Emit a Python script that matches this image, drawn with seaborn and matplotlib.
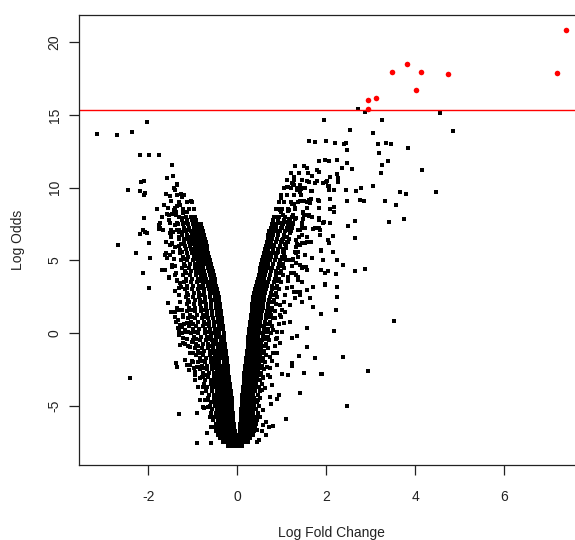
import matplotlib
matplotlib.use("Agg")
import matplotlib.pyplot as plt
import seaborn as sns
import pandas as pd

# ---------------- data ----------------
# dense core of the volcano: one row per log-odds level, x values of left / right arm
core_y = [-7.75, -7.5, -7.25, -7.0, -6.75, -6.5, -6.25, -6.0, -5.75, -5.5, -5.25, -5.0,
          -4.75, -4.5, -4.25, -4.0, -3.75, -3.5, -3.25, -3.0, -2.75, -2.5, -2.25, -2.0,
          -1.75, -1.5, -1.25, -1.0, -0.75, -0.5, -0.25, 0.0, 0.25, 0.5, 0.75, 1.0, 1.25,
          1.5, 1.75, 2.0, 2.25, 2.5, 2.75, 3.0, 3.25, 3.5, 3.75, 4.0, 4.25, 4.5, 4.75,
          5.0, 5.25, 5.5, 5.75, 6.0, 6.25, 6.5, 6.75, 7.0, 7.25, 7.5, 7.75, 8.0, 8.5,
          9.0, 9.5, 10.0, 10.5, 11.0, 11.5]
core_left_x = [
    [-0.2, -0.14, -0.08, -0.02],
    [-0.32, -0.25, -0.19, -0.13, -0.07, -0.01],
    [-0.38, -0.3, -0.24, -0.18, -0.12, -0.06],
    [-0.44, -0.35, -0.28, -0.22, -0.16, -0.1, -0.04],
    [-0.47, -0.38, -0.3, -0.24, -0.18, -0.12, -0.06],
    [-0.5, -0.4, -0.32, -0.26, -0.2, -0.14, -0.07],
    [-0.48, -0.39, -0.33, -0.27, -0.21, -0.15, -0.08],
    [-0.55, -0.44, -0.36, -0.29, -0.22, -0.16, -0.09],
    [-0.52, -0.43, -0.35, -0.29, -0.23, -0.17, -0.1],
    [-0.6, -0.48, -0.38, -0.31, -0.24, -0.17, -0.1],
    [-0.57, -0.46, -0.38, -0.31, -0.25, -0.18, -0.11],
    [-0.62, -0.5, -0.4, -0.33, -0.26, -0.19, -0.12],
    [-0.6, -0.49, -0.41, -0.34, -0.27, -0.2, -0.13],
    [-0.66, -0.53, -0.43, -0.35, -0.28, -0.2, -0.13],
    [-0.64, -0.52, -0.44, -0.36, -0.29, -0.21, -0.14],
    [-0.7, -0.56, -0.46, -0.38, -0.3, -0.22, -0.15],
    [-0.68, -0.56, -0.47, -0.39, -0.31, -0.23, -0.16],
    [-0.74, -0.6, -0.49, -0.4, -0.32, -0.24, -0.17],
    [-0.72, -0.6, -0.5, -0.42, -0.34, -0.26, -0.18],
    [-0.8, -0.65, -0.53, -0.43, -0.35, -0.27, -0.19],
    [-0.76, -0.63, -0.53, -0.44, -0.36, -0.28, -0.2],
    [-0.84, -0.68, -0.56, -0.46, -0.37, -0.29, -0.21],
    [-0.8, -0.67, -0.56, -0.47, -0.38, -0.3, -0.22],
    [-0.88, -0.72, -0.59, -0.49, -0.4, -0.31, -0.23],
    [-0.84, -0.7, -0.59, -0.5, -0.41, -0.32, -0.24],
    [-0.92, -0.76, -0.62, -0.51, -0.42, -0.33, -0.25],
    [-0.88, -0.74, -0.62, -0.52, -0.43, -0.34, -0.26],
    [-0.96, -0.8, -0.66, -0.54, -0.44, -0.35, -0.27],
    [-0.92, -0.78, -0.66, -0.55, -0.45, -0.36, -0.28],
    [-1.0, -0.84, -0.7, -0.57, -0.47, -0.37, -0.29],
    [-0.97, -0.82, -0.69, -0.58, -0.48, -0.38, -0.3],
    [-1.04, -0.88, -0.73, -0.6, -0.5, -0.4, -0.31],
    [-1.0, -0.86, -0.72, -0.61, -0.51, -0.41, -0.32],
    [-1.08, -0.92, -0.76, -0.63, -0.52, -0.42, -0.33],
    [-1.03, -0.89, -0.75, -0.64, -0.53, -0.43, -0.34],
    [-1.1, -0.94, -0.79, -0.66, -0.55, -0.44, -0.35],
    [-1.06, -0.91, -0.78, -0.67, -0.56, -0.45, -0.36],
    [-1.12, -0.96, -0.82, -0.69, -0.57, -0.46, -0.37],
    [-1.08, -0.94, -0.81, -0.7, -0.58, -0.47, -0.38],
    [-1.14, -0.98, -0.84, -0.71, -0.59, -0.48, -0.39],
    [-1.1, -0.96, -0.83, -0.72, -0.6, -0.49, -0.4],
    [-1.16, -1.0, -0.86, -0.73, -0.61, -0.5, -0.41],
    [-1.12, -0.98, -0.85, -0.74, -0.62, -0.52, -0.43],
    [-1.18, -1.02, -0.88, -0.75, -0.64, -0.54, -0.45],
    [-1.14, -1.0, -0.87, -0.76, -0.66, -0.56, -0.47],
    [-1.2, -1.04, -0.9, -0.78, -0.68, -0.58, -0.49],
    [-1.16, -1.02, -0.89, -0.8, -0.7, -0.6, -0.51],
    [-1.22, -1.06, -0.93, -0.82, -0.72, -0.62, -0.53],
    [-1.18, -1.04, -0.92, -0.83, -0.74, -0.64, -0.55],
    [-1.24, -1.08, -0.96, -0.86, -0.76, -0.66, -0.57],
    [-1.2, -1.06, -0.95, -0.87, -0.78, -0.68, -0.59],
    [-1.26, -1.12, -0.99, -0.89, -0.8, -0.7, -0.61],
    [-1.22, -1.1, -0.98, -0.9, -0.82, -0.72, -0.63],
    [-1.28, -1.14, -1.02, -0.92, -0.83, -0.74, -0.65],
    [-1.16, -1.04, -0.94, -0.85, -0.76, -0.67],
    [-1.3, -1.18, -1.06, -0.96, -0.87, -0.78, -0.69],
    [-1.2, -1.08, -0.98, -0.89, -0.8, -0.71],
    [-1.32, -1.2, -1.1, -1.0, -0.91, -0.82, -0.73],
    [-1.24, -1.12, -1.02, -0.93, -0.84, -0.75],
    [-1.3, -1.16, -1.04, -0.95, -0.86, -0.77],
    [-1.2, -1.08, -0.98, -0.88, -0.79],
    [-1.34, -1.22, -1.1, -1.0, -0.9, -0.81],
    [-1.25, -1.13, -1.02, -0.92],
    [-1.3, -1.16, -1.04, -0.94],
    [-1.4, -1.22, -1.08, -0.98],
    [-1.3, -1.14, -1.02],
    [-1.36, -1.2],
    [-1.42],
    [],
    [],
    [],
]
core_right_x = [
    [0.04, 0.1],
    [0.05, 0.11, 0.17, 0.24],
    [0.03, 0.09, 0.15, 0.21, 0.28],
    [0.04, 0.1, 0.16, 0.22, 0.29, 0.36],
    [0.05, 0.11, 0.17, 0.23, 0.3, 0.38],
    [0.06, 0.12, 0.18, 0.24, 0.31, 0.4],
    [0.07, 0.13, 0.19, 0.25, 0.32, 0.41],
    [0.08, 0.14, 0.2, 0.27, 0.35, 0.45],
    [0.08, 0.14, 0.2, 0.26, 0.33, 0.42],
    [0.09, 0.15, 0.21, 0.28, 0.36, 0.46],
    [0.09, 0.15, 0.21, 0.27, 0.34, 0.43],
    [0.1, 0.16, 0.22, 0.29, 0.37, 0.48],
    [0.1, 0.16, 0.22, 0.28, 0.35, 0.44],
    [0.11, 0.17, 0.23, 0.3, 0.38, 0.5],
    [0.11, 0.17, 0.23, 0.29, 0.36, 0.46],
    [0.12, 0.18, 0.24, 0.31, 0.4, 0.52],
    [0.13, 0.19, 0.25, 0.32, 0.39, 0.48],
    [0.14, 0.2, 0.26, 0.33, 0.42, 0.55],
    [0.14, 0.2, 0.27, 0.34, 0.41, 0.5],
    [0.15, 0.21, 0.28, 0.35, 0.44, 0.58],
    [0.16, 0.22, 0.29, 0.36, 0.44, 0.54],
    [0.17, 0.23, 0.3, 0.37, 0.46, 0.6],
    [0.18, 0.24, 0.31, 0.38, 0.46, 0.56],
    [0.19, 0.25, 0.32, 0.39, 0.48, 0.62],
    [0.2, 0.26, 0.33, 0.4, 0.48, 0.58],
    [0.21, 0.27, 0.34, 0.42, 0.5, 0.65],
    [0.22, 0.28, 0.35, 0.43, 0.51, 0.61],
    [0.23, 0.29, 0.36, 0.44, 0.53, 0.68],
    [0.23, 0.3, 0.37, 0.45, 0.54, 0.64],
    [0.24, 0.31, 0.38, 0.46, 0.56, 0.72],
    [0.25, 0.32, 0.39, 0.47, 0.57, 0.67],
    [0.26, 0.33, 0.4, 0.48, 0.58, 0.75],
    [0.27, 0.34, 0.41, 0.49, 0.59, 0.7],
    [0.28, 0.35, 0.42, 0.5, 0.61, 0.78],
    [0.29, 0.36, 0.43, 0.51, 0.62, 0.73],
    [0.3, 0.37, 0.44, 0.53, 0.64, 0.8],
    [0.31, 0.38, 0.45, 0.54, 0.65, 0.76],
    [0.32, 0.39, 0.47, 0.56, 0.67, 0.84],
    [0.33, 0.4, 0.48, 0.57, 0.68, 0.79],
    [0.34, 0.41, 0.49, 0.58, 0.7, 0.87],
    [0.35, 0.42, 0.5, 0.6, 0.71, 0.83],
    [0.36, 0.43, 0.51, 0.61, 0.73, 0.9],
    [0.38, 0.45, 0.53, 0.63, 0.75, 0.87],
    [0.4, 0.47, 0.55, 0.65, 0.77, 0.94],
    [0.42, 0.49, 0.57, 0.67, 0.79, 0.9],
    [0.44, 0.51, 0.59, 0.69, 0.82, 0.98],
    [0.46, 0.53, 0.61, 0.71, 0.84, 0.94],
    [0.48, 0.55, 0.63, 0.73, 0.86, 1.02],
    [0.5, 0.57, 0.65, 0.76, 0.88, 0.98],
    [0.52, 0.6, 0.68, 0.79, 0.92, 1.06],
    [0.54, 0.62, 0.7, 0.81, 0.94, 1.02],
    [0.56, 0.64, 0.73, 0.84, 0.97, 1.1],
    [0.58, 0.66, 0.75, 0.86, 1.0, 1.08],
    [0.6, 0.68, 0.78, 0.9, 1.04],
    [0.62, 0.7, 0.8, 0.92, 1.06],
    [0.64, 0.73, 0.83, 0.95, 1.1],
    [0.66, 0.75, 0.86, 0.98, 1.12],
    [0.68, 0.78, 0.89, 1.02, 1.16],
    [0.7, 0.8, 0.92, 1.05],
    [0.72, 0.83, 0.95, 1.08, 1.2],
    [0.75, 0.86, 0.98, 1.12],
    [0.78, 0.88, 1.0, 1.14, 1.26],
    [0.8, 0.91, 1.04, 1.18],
    [0.82, 0.94, 1.07, 1.22],
    [0.87, 1.0, 1.14, 1.3],
    [0.93, 1.06, 1.2, 1.36],
    [0.98, 1.12, 1.28, 1.44],
    [1.05, 1.2, 1.35, 1.52],
    [1.12, 1.28, 1.45],
    [1.2, 1.38, 1.58],
    [1.3, 1.5],
]

# looser halo around the outer side of both arms, between the core rows
halo_y = [-2.9, -2.4, -1.9, -1.4, -0.9, -0.4, 0.1, 0.6, 1.1, 1.6, 2.1, 2.6, 3.1,
          3.6, 4.1, 4.6, 5.1, 5.6, 6.1, 6.6, 7.1, 7.6, 8.1, 8.6, 9.1]
halo_left_x = [
    [-0.95, -0.7, -0.5], [-0.98, -0.74, -0.52], [-1.02, -0.8, -0.55], [-1.06, -0.84, -0.58],
    [-1.1, -0.88, -0.62], [-1.14, -0.92, -0.64], [-1.16, -0.96, -0.67], [-1.2, -0.99, -0.7],
    [-1.22, -1.02, -0.74], [-1.25, -1.05, -0.77], [-1.28, -1.08, -0.8], [-1.3, -1.1, -0.82],
    [-1.32, -1.12, -0.84], [-1.36, -1.15, -0.86], [-1.38, -1.16, -0.88], [-1.4, -1.18, -0.92],
    [-1.42, -1.2, -0.95], [-1.44, -1.24, -1.0], [-1.46, -1.26, -1.04], [-1.48, -1.3, -1.08],
    [-1.5, -1.32, -1.12], [-1.52, -1.36, -1.16], [-1.54, -1.38], [-1.56, -1.4], [-1.5],
]
halo_right_x = [
    [0.52, 0.7], [0.55, 0.74], [0.56, 0.78], [0.6, 0.8], [0.62, 0.84], [0.64, 0.88],
    [0.66, 0.9], [0.7, 0.94], [0.72, 0.98], [0.75, 1.0], [0.78, 1.04], [0.82, 1.08],
    [0.86, 1.12], [0.9, 1.15], [0.94, 1.2], [0.98, 1.24], [1.0, 1.26], [1.04, 1.3],
    [1.08, 1.34], [1.12, 1.38], [1.16, 1.42], [1.2, 1.46], [1.26, 1.5], [1.3, 1.56], [1.4],
]

# scattered genes, left side (logFC, log odds)
left_points = [
    (-2.04, 14.5), (-3.15, 13.7), (-2.71, 13.6), (-2.37, 13.86), (-2.19, 12.27), (-1.98, 12.27),
    (-1.75, 12.27), (-1.46, 11.54), (-1.44, 10.83), (-1.57, 10.64), (-2.1, 10.48), (-2.45, 9.86),
    (-2.19, 9.77), (-2.1, 9.5), (-1.35, 10.21), (-1.4, 9.84), (-1.6, 9.59), (-1.52, 9.41),
    (-1.26, 9.55), (-1.24, 9.38), (-1.05, 9.06), (-1.81, 8.53), (-1.64, 8.79), (-1.35, 8.76),
    (-1.28, 8.79), (-1.43, 8.47), (-1.38, 8.35), (-1.46, 8.17), (-1.15, 8.35), (-1.59, 8.17),
    (-1.69, 7.96), (-2.1, 7.91), (-1.53, 7.76), (-1.41, 7.43), (-1.24, 7.91), (-1.14, 7.62),
    (-0.97, 7.62), (-1.77, 7.41), (-1.74, 7.2), (-2.07, 6.97), (-2.19, 6.83), (-1.5, 6.74),
    (-1.36, 7.09), (-1.32, 6.97), (-1.12, 6.74), (-0.94, 6.9), (-2.69, 6.04), (-1.98, 6.19),
    (-1.61, 6.28), (-1.51, 6.06), (-2.28, 5.49), (-1.96, 5.14), (-1.62, 5.37), (-1.57, 5.14),
    (-1.7, 4.34), (-1.63, 4.34), (-1.47, 4.68), (-1.54, 3.76), (-2.13, 4.15), (-1.98, 3.07),
    (-1.4, 3.99), (-1.29, 3.46), (-1.4, 2.89), (-1.55, 2.09), (-1.5, 1.47), (-1.39, 1.47),
    (-1.36, 1.7), (-1.3, 1.58), (-1.38, 0.76), (-1.33, 0.37), (-1.32, 0.16), (-1.29, -0.85),
    (-1.17, -0.73), (-1.38, -2.09), (-1.35, -2.36), (-1.14, -2.2), (-1.09, -2.55), (-2.4, -3.07),
    (-1.32, -5.57), (-1.29, 0.55), (-0.94, -3.23), (-0.88, -3.69), (-0.8, -4.15), (-0.91, -5.53),
    (-0.74, -5.18), (-0.67, -6.86), (-0.58, -7.55), (-0.91, -7.55), (-1.25, 0.0), (-1.18, 0.21),
    (-1.21, -0.37), (-1.06, -0.94), (-0.99, -1.4), (-1.0, -1.97), (-0.84, -2.32), (-0.76, -3.0),
    (-0.69, -4.61), (-0.65, -5.07), (-0.61, -5.76), (-0.58, -6.45),
    (-1.25, 9.5), (-1.21, 8.24), (-1.14, 8.31), (-0.99, 7.59), (-1.74, 7.55), (-1.66, 7.09),
    (-1.77, 7.14), (-1.51, 6.86), (-1.44, 6.97), (-1.25, 6.97), (-1.06, 6.4), (-0.95, 6.86),
    (-0.91, 6.52), (-0.84, 6.28), (-1.47, 6.17), (-1.4, 5.94), (-1.6, 5.49), (-1.51, 5.37),
    (-1.44, 5.6), (-1.29, 5.71), (-1.21, 5.25), (-1.14, 5.49), (-1.47, 4.56), (-1.53, 3.87),
    (-1.36, 3.65), (-1.27, 3.19), (-2.11, 7.09), (-2.04, 6.86), (-2.17, 10.41), (-2.07, 9.61),
    (-1.36, 10.25),
    (-1.4, 1.12), (-1.33, 0.89), (-1.21, 1.24), (-1.25, 0.43), (-1.14, 0.67), (-1.1, 0.09),
    (-1.3, -0.14), (-1.21, -0.71), (-1.02, -0.6), (-1.18, -1.86), (-1.06, -2.2), (-0.95, -2.66),
    (-0.91, -2.32), (-0.84, -3.12), (-0.76, -3.69), (-0.84, -4.61), (-0.73, -4.61), (-0.76, -5.07),
]

# scattered genes, right side (logFC, log odds)
right_points = [
    (1.95, 14.68), (2.88, 15.23), (2.72, 15.42), (3.25, 14.68), (4.56, 15.12), (2.53, 13.97),
    (3.05, 13.79), (4.85, 13.88), (2.0, 13.24), (2.2, 13.08), (2.4, 12.99), (2.44, 13.08),
    (2.47, 12.62), (3.17, 12.99), (3.34, 13.08), (3.45, 12.99), (3.84, 12.71), (3.19, 12.37),
    (1.97, 11.91), (2.06, 11.82), (2.23, 11.91), (2.47, 11.72), (3.39, 11.82), (3.25, 11.56),
    (2.35, 11.38), (2.58, 11.29), (4.16, 11.2), (3.22, 11.01), (2.23, 10.92), (2.09, 10.76),
    (2.26, 10.67), (2.26, 10.39), (2.0, 10.39), (1.92, 10.32), (2.03, 10.14), (2.06, 9.86),
    (2.17, 9.86), (2.44, 9.86), (2.67, 9.77), (2.79, 9.96), (3.05, 10.14), (3.66, 9.68),
    (3.78, 9.59), (4.47, 9.68), (2.09, 9.24), (2.47, 9.06), (2.76, 9.15), (2.85, 9.06),
    (3.31, 9.06), (3.57, 8.79), (2.09, 8.53), (2.17, 8.69), (2.17, 8.35), (3.75, 7.83),
    (2.64, 7.73), (3.42, 7.64), (1.95, 7.64), (2.09, 7.55), (2.49, 7.36), (1.86, 7.11),
    (1.86, 6.74), (2.14, 6.65), (2.03, 6.4), (2.06, 6.21), (2.64, 6.56), (1.89, 5.66),
    (1.92, 5.04), (2.23, 5.04), (2.38, 4.68), (1.89, 4.34), (2.03, 4.25), (2.21, 4.06),
    (2.64, 4.25), (2.88, 4.43), (1.97, 3.35), (2.23, 3.17), (2.21, 1.56), (1.89, 1.31),
    (3.51, 0.85), (2.17, 0.14), (2.38, -1.65), (1.89, -2.8), (2.94, -2.64), (2.47, -5.04),
    (1.6, 13.24), (1.74, 13.15), (1.83, 11.82), (1.56, 11.38), (1.8, 11.2), (1.83, 11.1),
    (1.27, 10.76), (1.68, 10.83), (1.24, 10.3), (1.28, 10.2), (1.41, 10.19), (1.44, 9.89),
    (1.57, 10.46), (1.65, 9.77), (1.8, 10.46), (1.92, 10.3), (2.02, 10.44), (2.05, 10.14),
    (1.13, 10.03), (1.35, 9.84), (0.98, 9.31), (1.28, 9.5), (1.51, 9.08), (1.62, 9.13),
    (1.65, 9.2), (1.83, 9.08), (1.24, 8.88), (1.28, 8.88), (1.17, 8.49), (0.93, 8.53),
    (0.98, 8.35), (1.48, 8.35), (1.57, 8.12), (1.83, 8.58), (1.83, 7.89), (0.85, 8.0),
    (0.89, 8.0), (1.16, 7.83), (1.3, 7.85), (1.03, 7.52), (1.0, 7.3), (1.48, 7.83),
    (1.62, 8.05), (1.67, 7.96), (1.24, 7.2), (1.45, 7.32), (1.48, 7.2), (1.74, 7.2),
    (1.83, 7.2), (0.89, 7.04), (0.92, 6.9), (0.78, 6.63), (0.81, 6.97), (1.18, 6.86),
    (1.07, 6.63), (1.45, 6.74), (1.56, 6.63), (1.66, 6.28), (0.72, 6.17), (0.78, 5.94),
    (0.81, 6.04), (0.96, 5.94), (1.09, 5.83), (1.33, 5.94), (1.41, 6.06), (1.53, 6.17),
    (1.88, 5.71), (0.6, 5.53), (0.81, 5.49), (1.03, 5.6), (1.33, 5.49), (1.37, 5.25),
    (1.22, 5.02), (1.42, 4.68), (1.45, 4.45), (1.54, 4.56), (1.27, 4.11), (1.37, 3.87),
    (1.27, 2.84), (1.37, 2.84), (1.41, 2.62),
    (1.12, 10.07), (1.26, 10.25), (1.45, 9.96), (1.6, 10.41), (1.75, 10.34), (1.67, 9.79),
    (1.42, 9.72), (1.56, 9.04), (1.63, 8.93), (1.82, 9.15), (0.96, 8.47), (1.15, 8.42),
    (1.03, 8.12), (1.33, 7.89), (1.48, 8.24), (1.6, 8.12), (1.67, 8.0), (1.84, 7.78),
    (1.93, 7.59), (0.81, 7.32), (0.96, 7.55), (1.11, 7.66), (1.18, 7.32), (1.26, 7.59),
    (1.37, 7.09), (1.52, 7.2), (1.71, 7.14), (1.86, 7.09), (0.77, 6.86), (1.0, 6.4),
    (1.15, 6.28), (1.33, 6.4), (1.45, 6.17), (1.56, 6.28), (2.16, 5.6), (0.66, 5.83),
    (0.73, 5.49), (0.92, 5.6), (1.03, 5.71), (1.37, 5.6), (1.52, 5.37), (1.67, 5.14),
    (1.15, 5.02), (1.33, 4.8), (1.5, 4.52), (1.56, 4.34), (1.87, 4.34), (1.97, 4.15),
    (1.15, 3.87), (1.33, 3.99), (1.37, 3.65), (1.45, 3.53), (1.22, 3.19), (1.41, 2.84),
    (1.56, 2.96), (1.71, 3.15), (1.63, 2.39), (1.97, 3.3), (2.23, 2.5), (1.3, 2.39),
    (1.45, 2.15), (1.18, 1.93),
    (1.71, 1.77), (1.88, 1.29), (1.57, 0.32), (1.35, -0.21), (1.24, -0.32), (1.56, -0.94),
    (1.39, -1.58), (1.24, -2.04), (1.24, -2.27), (1.74, -1.74), (1.5, -2.73), (1.9, -2.82),
    (1.15, -2.89), (1.0, -2.82), (1.41, -4.15), (1.09, -5.92), (0.94, -4.27), (0.89, -4.56),
    (0.75, -4.89), (0.81, -6.4), (0.72, -6.45), (0.64, -6.13), (0.49, -7.36), (0.44, -7.48),
    (0.56, -6.72), (0.64, -7.02), (0.96, 1.93), (1.07, 1.47), (1.18, 0.78), (1.0, 0.09),
    (0.96, -0.71), (0.89, -1.4), (0.89, -2.2), (0.73, -3.0), (0.77, -3.58), (0.62, -3.8),
    (0.58, -5.3),
    (0.73, 1.36), (0.85, 1.01), (0.96, 1.24), (1.04, 0.67), (0.81, 0.21), (0.7, -0.25),
    (0.89, -0.36), (0.73, -1.63), (0.66, -2.32), (0.58, -3.12), (0.55, -3.92), (0.47, -4.61),
    (0.73, -4.38), (0.51, -5.76), (0.58, -6.33), (0.44, -6.68),
]

# genes above the significance cut-off (red)
sig_logfc = [7.39, 3.81, 3.48, 4.12, 4.73, 7.18, 4.01, 3.11, 2.93, 2.93]
sig_logodds = [20.85, 18.51, 17.99, 17.99, 17.80, 17.89, 16.75, 16.19, 16.01, 15.40]

threshold = 15.35
x_ticks = [-2, 0, 2, 4, 6]
y_ticks = [-5, 0, 5, 10, 15, 20]
x_limits = (-3.557, 7.813)
y_limits = (-9.085, 21.886)

# ---------------- build the table ----------------
rows_x, rows_y = [], []
for yv, lx, rx in list(zip(core_y, core_left_x, core_right_x)) + \
        list(zip(halo_y, halo_left_x, halo_right_x)):
    for xv in lx + rx:
        rows_x.append(xv)
        rows_y.append(yv)
for xv, yv in left_points + right_points:
    rows_x.append(xv)
    rows_y.append(yv)
genes = pd.DataFrame({"logFC": rows_x, "logOdds": rows_y})
sig = pd.DataFrame({"logFC": sig_logfc, "logOdds": sig_logodds})

# ---------------- draw ----------------
plt.rcParams["font.family"] = ["Liberation Sans", "DejaVu Sans"]
plt.rcParams["font.size"] = 10

fig = plt.figure(figsize=(5.75, 5.40), dpi=100)
ax = fig.add_axes([79 / 575, 75 / 540, (585 - 79) / 575, 450 / 540])

sns.scatterplot(data=genes, x="logFC", y="logOdds", ax=ax, color="black",
                marker="s", s=8, linewidth=0, legend=False)
sns.scatterplot(data=sig, x="logFC", y="logOdds", ax=ax, color="#ff0000",
                marker="o", s=16, linewidth=0, legend=False, zorder=3)
ax.axhline(threshold, color="#ff0000", lw=1.0, zorder=2)

ax.set_xlim(*x_limits)
ax.set_ylim(*y_limits)
ax.set_xticks(x_ticks)
ax.set_yticks(y_ticks)
ax.set_xticklabels([str(t) for t in x_ticks])
ax.set_yticklabels([str(t) for t in y_ticks])
ax.tick_params(axis="both", direction="out", length=7, width=0.9, color="#222222",
               labelcolor="#222222", labelsize=10)
ax.tick_params(axis="x", pad=11)
ax.tick_params(axis="y", pad=5.5, labelrotation=90)
for lab in ax.get_yticklabels():
    lab.set_verticalalignment("center")
for sp in ax.spines.values():
    sp.set_color("#222222")
    sp.set_linewidth(0.9)

ax.set_xlabel("")
ax.set_ylabel("")
fig.text(331 / 575, 1 - 537.5 / 540, "Log Fold Change", ha="center", va="baseline",
         fontsize=10, color="#222222")
fig.text(18 / 575, 1 - 240 / 540, "Log Odds", ha="center", va="center", rotation=90,
         fontsize=10, color="#222222")

fig.savefig("out.png", dpi=100)
